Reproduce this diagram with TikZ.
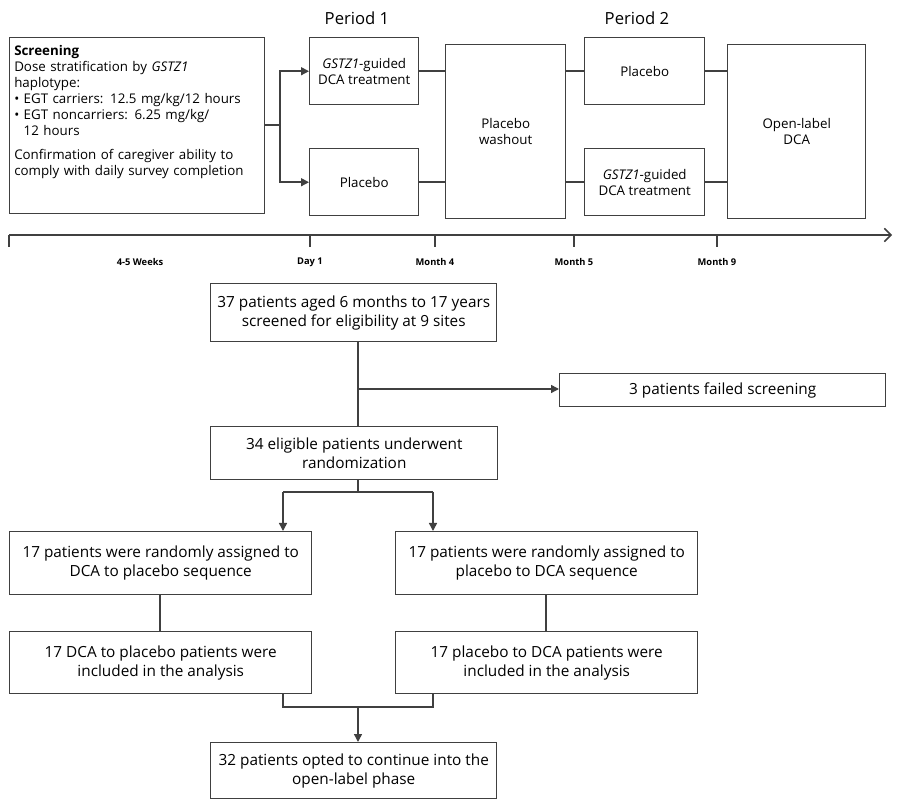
\documentclass[tikz,border=0pt]{standalone}
\usepackage{fontspec}
\setmainfont{Open Sans}
\usetikzlibrary{arrows.meta}
\begin{document}
\begin{tikzpicture}[x=0.75pt,y=-0.75pt,
  ln/.style={draw=black!75,line width=1.1pt},
  arr/.style={ln,-{Triangle[length=6pt,width=6pt]}},
  bx/.style={ln,fill=white,align=center,inner sep=2pt,anchor=north west},
  big/.style={font=\fontsize{11.5}{14.5}\selectfont},
  sm/.style={font=\fontsize{10}{12}\selectfont},
  tl/.style={font=\bfseries\fontsize{7}{8}\selectfont}]
\useasboundingbox (0,0) rectangle (900,812);
% top boxes
\node[draw=black!75,line width=1.1pt,rectangle,minimum width=255*0.75pt,minimum height=176*0.75pt,anchor=north west,inner sep=0] (scr) at (9,37) {};
\node[sm,anchor=north west,align=left,text width=250*0.75pt,inner sep=0] (scrt) at (14,45) {\textbf{Screening}\\Dose stratification by \textit{GSTZ1}\\haplotype:\\• EGT carriers: 12.5 mg/kg/12 hours\\• EGT noncarriers: 6.25 mg/kg/\\\phantom{• }12 hours\\[6pt]Confirmation of caregiver ability to\\comply with daily survey completion};
\node[bx,sm,minimum width=109*0.75pt,minimum height=67*0.75pt] (g1) at (309,37) {\textit{GSTZ1}-guided\\DCA treatment};
\node[bx,sm,minimum width=109*0.75pt,minimum height=67*0.75pt] (p1) at (309,148) {Placebo};
\node[bx,sm,minimum width=120*0.75pt,minimum height=174*0.75pt] (wo) at (445,44) {Placebo\\washout};
\node[bx,sm,minimum width=120*0.75pt,minimum height=67*0.75pt] (p2) at (584,37) {Placebo};
\node[bx,sm,minimum width=120*0.75pt,minimum height=67*0.75pt] (g2) at (584,148) {\textit{GSTZ1}-guided\\DCA treatment};
\node[bx,sm,minimum width=138*0.75pt,minimum height=174*0.75pt] (ol) at (727,44) {Open-label\\DCA};
\node[font=\fontsize{12.5}{15}\selectfont] (per1) at (357,18) {Period 1};
\node[font=\fontsize{12.5}{15}\selectfont] (per2) at (637,18) {Period 2};
\coordinate (fk) at (280,125);
\draw[ln] (scr.east|-fk) -- (fk);
\draw[arr] (fk) |- (g1.west);
\draw[arr] (fk) |- (p1.west);
\draw[ln] (g1.east) -- (g1.east-|wo.west);
\draw[ln] (p1.east) -- (p1.east-|wo.west);
\draw[ln] (wo.east|-p2.west) -- (p2.west);
\draw[ln] (wo.east|-g2.west) -- (g2.west);
\draw[ln] (p2.east) -- (p2.east-|ol.west);
\draw[ln] (g2.east) -- (g2.east-|ol.west);
% timeline
\coordinate (t0) at (9,235); \coordinate (t1) at (892,235);
\draw[ln,-{Straight Barb[length=5pt]}] (t0) -- (t1);
\foreach \x in {9,310,435,574,717}{\draw[ln] (\x,235) -- (\x,247);}
\node[tl] (w0) at (140,262) {4-5 Weeks};
\node[tl] (w1) at (310,262) {Day 1};
\node[tl] (w2) at (435,262) {Month 4};
\node[tl] (w3) at (574,262) {Month 5};
\node[tl] (w4) at (717,262) {Month 9};
% flow chart
\node[bx,big,minimum width=286*0.75pt,minimum height=58*0.75pt] (A) at (210,283) {37 patients aged 6 months to 17 years\\screened for eligibility at 9 sites};
\node[bx,big,minimum width=326*0.75pt,minimum height=33*0.75pt] (F) at (559,373) {3 patients failed screening};
\node[bx,big,minimum width=287*0.75pt,minimum height=53*0.75pt] (B) at (210,426) {34 eligible patients underwent\\randomization};
\node[bx,big,minimum width=302*0.75pt,minimum height=63*0.75pt] (C) at (9,531) {17 patients were randomly assigned to\\DCA to placebo sequence};
\node[bx,big,minimum width=302*0.75pt,minimum height=63*0.75pt] (D) at (395,531) {17 patients were randomly assigned to\\placebo to DCA sequence};
\node[bx,big,minimum width=302*0.75pt,minimum height=62*0.75pt] (E) at (9,631) {17 DCA to placebo patients were\\included in the analysis};
\node[bx,big,minimum width=302*0.75pt,minimum height=62*0.75pt] (G) at (395,631) {17 placebo to DCA patients were\\included in the analysis};
\node[bx,big,minimum width=286*0.75pt,minimum height=56*0.75pt] (H) at (210,742) {32 patients opted to continue into the\\open-label phase};
\coordinate (a1) at (358,389);
\draw[ln] (A.south-|a1) -- (B.north-|a1);
\draw[arr] (a1) -- (a1-|F.west);
\coordinate (b1) at (358,492);
\coordinate (bl) at (283,492);
\coordinate (br) at (433,492);
\draw[ln] (B.south-|b1) -- (b1);
\draw[ln] (bl) -- (br);
\draw[arr] (bl) -- (bl|-C.north);
\draw[arr] (br) -- (br|-D.north);
\coordinate (c1) at (160,600);
\draw[ln] (C.south-|c1) -- (E.north-|c1);
\coordinate (d1) at (546,600);
\draw[ln] (D.south-|d1) -- (G.north-|d1);
\coordinate (el) at (283,707);
\coordinate (er) at (433,707);
\coordinate (e1) at (358,707);
\draw[ln] (E.south-|el) -- (el) -- (er) -- (G.south-|er);
\draw[arr] (e1) -- (H.north-|e1);
\end{tikzpicture}
\end{document}
